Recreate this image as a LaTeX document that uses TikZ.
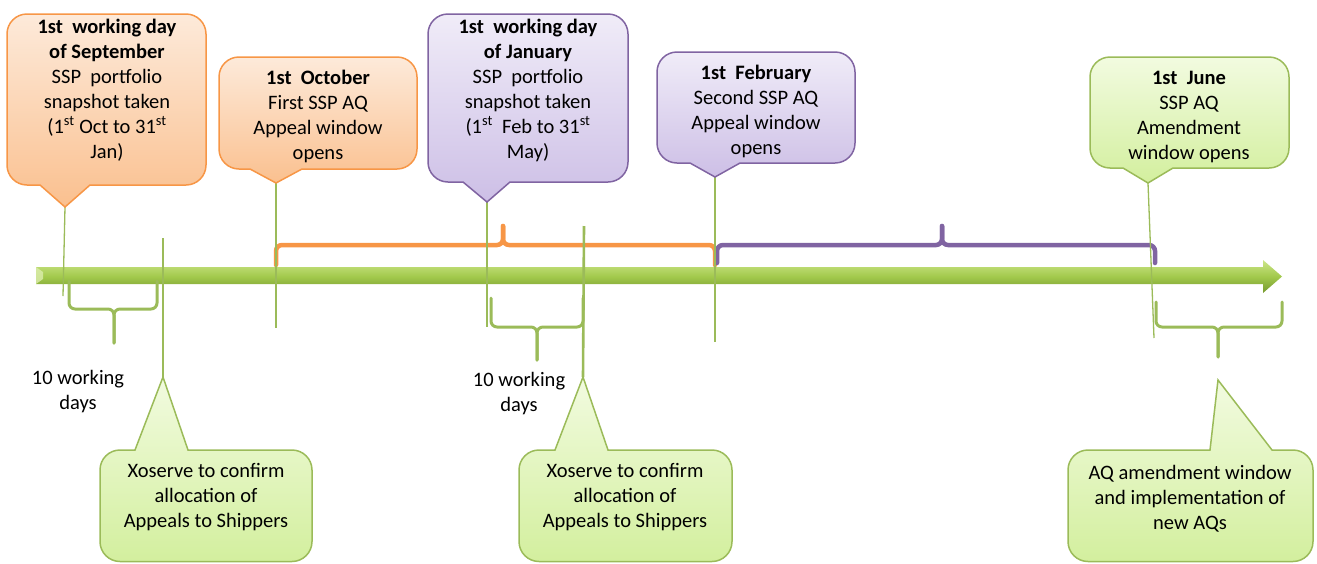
\documentclass[tikz,border=0pt]{standalone}
\usepackage{fontspec}
\setmainfont{Carlito}
\definecolor{orB}{HTML}{F79646}
\definecolor{orT}{HTML}{FDEADA}
\definecolor{orL}{HTML}{FAC08F}
\definecolor{puB}{HTML}{8064A2}
\definecolor{puT}{HTML}{F0ECF8}
\definecolor{puL}{HTML}{CDBFE6}
\definecolor{grB}{HTML}{9BBB59}
\definecolor{grT}{HTML}{F2FBE0}
\definecolor{grL}{HTML}{D3EF9E}
\definecolor{barT}{HTML}{CDE68A}
\definecolor{barM}{HTML}{A2C94C}
\definecolor{barD}{HTML}{76992F}
\def\R{20}
\newcommand{\callTop}[8]{%
  \draw[#1] ({#2+\R},#3) -- ({#4-\R},#3) arc[start angle=-90,end angle=0,radius=\R]
   -- (#4,{#5-\R}) arc[start angle=0,end angle=90,radius=\R]
   -- (#7,#5) -- (#8) -- (#6,#5)
   -- ({#2+\R},#5) arc[start angle=90,end angle=180,radius=\R]
   -- (#2,{#3+\R}) arc[start angle=180,end angle=270,radius=\R] -- cycle;}
\newcommand{\callBot}[8]{%
  \draw[#1] ({#2+\R},#3) -- (#6,#3) -- (#8) -- (#7,#3)
   -- ({#4-\R},#3) arc[start angle=-90,end angle=0,radius=\R]
   -- (#4,{#5-\R}) arc[start angle=0,end angle=90,radius=\R]
   -- ({#2+\R},#5) arc[start angle=90,end angle=180,radius=\R]
   -- (#2,{#3+\R}) arc[start angle=180,end angle=270,radius=\R] -- cycle;}
\begin{document}
\begin{tikzpicture}[x=1pt,y=-1pt,
  orbox/.style={draw=orB,line width=1.5pt,top color=orT,bottom color=orL},
  pubox/.style={draw=puB,line width=1.5pt,top color=puT,bottom color=puL},
  grbox/.style={draw=grB,line width=1.5pt,top color=grT,bottom color=grL},
  txt/.style={inner sep=0pt,align=center,font=\fontsize{20.5}{25}\selectfont},
  tick/.style={draw=grB,line width=1.3pt},
  thick tick/.style={draw=grB,line width=2.6pt},
  brace/.style={rounded corners=6pt,line cap=round},
  gbrace/.style={brace,draw=grB,line width=3pt},
  obrace/.style={brace,draw=orB,line width=4.5pt},
  pbrace/.style={brace,draw=puB,line width=4.5pt}]
\useasboundingbox (0,0) rectangle (1317,563);
% main timeline arrow
\shade[top color=barT,bottom color=barD,middle color=barM]
  (36,267) -- (1263,267) -- (1263,260) -- (1282,276.5) -- (1263,293) -- (1263,284) -- (36,284) -- cycle;
\fill[barT!70!white,opacity=0.8] (36,267) -- (43,272) -- (43,279) -- (36,284) -- cycle;
% braces above the bar
\coordinate (ob1) at (276,265); \coordinate (ob2) at (715,265); \coordinate (obm) at (503,226);
\draw[obrace] (ob1) -- (276,245) -- (503,245) -- (obm);
\draw[obrace] (ob2) -- (715,245) -- (503,245) -- (obm);
\coordinate (pb1) at (717,263); \coordinate (pb2) at (1155,263); \coordinate (pbm) at (942,226);
\draw[pbrace] (pb1) -- (717,245) -- (942,245) -- (pbm);
\draw[pbrace] (pb2) -- (1155,245) -- (942,245) -- (pbm);
% braces below the bar
\coordinate (gb1) at (69,281); \coordinate (gb2) at (157,281); \coordinate (gbm) at (114,343);
\draw[gbrace] (gb1) -- (69,309) -- (114,309) -- (gbm);
\draw[gbrace] (gb2) -- (157,309) -- (114,309) -- (gbm);
\coordinate (hb1) at (491,298); \coordinate (hb2) at (583,298); \coordinate (hbm) at (537,360);
\draw[gbrace] (hb1) -- (491,327) -- (537,327) -- (hbm);
\draw[gbrace] (hb2) -- (583,327) -- (537,327) -- (hbm);
\coordinate (ib1) at (1156,302); \coordinate (ib2) at (1282,302); \coordinate (ibm) at (1218,357);
\draw[gbrace] (ib1) -- (1156,327) -- (1218,327) -- (ibm);
\draw[gbrace] (ib2) -- (1282,327) -- (1218,327) -- (ibm);
% callout tips and line ends
\coordinate (tipA) at (65,207);  \coordinate (endA) at (63,296);
\coordinate (tipB) at (276,183); \coordinate (endB) at (276,328);
\coordinate (tipC) at (487,202); \coordinate (endC) at (487,327);
\coordinate (tipD) at (715,177); \coordinate (endD) at (715,342);
\coordinate (tipE) at (1148,183); \coordinate (endE) at (1154,338);
\coordinate (tipF) at (163,377); \coordinate (endF) at (163,238);
\coordinate (tipG) at (583,377); \coordinate (endG) at (584,226);
\coordinate (tipH) at (1218,380);
\draw[tick] (tipA) -- (endA);
\draw[tick] (tipB) -- (endB);
\draw[tick] (tipC) -- (endC);
\draw[tick] (tipD) -- (endD);
\draw[tick] (tipE) -- (endE);
\draw[thick tick] (endF) -- (tipF);
\draw[thick tick] (endG) -- (tipG);
% callouts
\callTop{orbox}{7}{14}{206}{185}{40}{90}{tipA}
\callTop{orbox}{219}{57}{417}{169}{250}{302}{tipB}
\callTop{pubox}{428}{14}{628}{182}{463}{510}{tipC}
\callTop{pubox}{657}{52}{855}{163}{690}{740}{tipD}
\callTop{grbox}{1090}{57}{1289}{168}{1123}{1173}{tipE}
\callBot{grbox}{100}{450}{312}{561.5}{135}{188}{tipF}
\callBot{grbox}{519}{450}{732}{561.5}{555}{608}{tipG}
\callBot{grbox}{1068}{450}{1313}{561.5}{1210}{1272}{tipH}
% texts
\node[txt] (tA) at (107,90) {\textbf{1st~ working day}\\\textbf{of September}\\SSP~ portfolio\\snapshot taken\\(1\textsuperscript{st} Oct to 31\textsuperscript{st}\\Jan)};
\node[txt] (tB) at (318,116) {\textbf{1st~ October}\\First SSP AQ\\Appeal window\\opens};
\node[txt] (tC) at (528,90) {\textbf{1st~ working day}\\\textbf{of January}\\SSP~ portfolio\\snapshot taken\\(1\textsuperscript{st}~ Feb to 31\textsuperscript{st}\\May)};
\node[txt] (tD) at (756,111) {\textbf{1st~ February}\\Second SSP AQ\\Appeal window\\opens};
\node[txt] (tE) at (1189,117) {\textbf{1st~ June}\\SSP AQ\\Amendment\\window opens};
\node[txt] (tF) at (206,497) {Xoserve to confirm\\allocation of\\Appeals to Shippers};
\node[txt] (tG) at (625,497) {Xoserve to confirm\\allocation of\\Appeals to Shippers};
\node[txt] (tH) at (1190,499) {AQ amendment window\\and implementation of\\new AQs};
\node[txt] (wA) at (78,392) {10 working\\days};
\node[txt] (wB) at (519,394) {10 working\\days};
\end{tikzpicture}
\end{document}
